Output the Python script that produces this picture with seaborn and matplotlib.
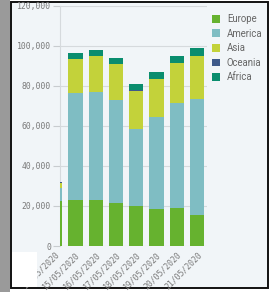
import matplotlib
matplotlib.use("Agg")
import matplotlib.pyplot as plt
import matplotlib.patches as mpatches
import matplotlib.transforms as mtrans
from matplotlib.ticker import FuncFormatter
import seaborn as sns
import pandas as pd
import numpy as np

dates = ["14/05/2020", "15/05/2020", "16/05/2020", "17/05/2020",
         "18/05/2020", "19/05/2020", "20/05/2020", "21/05/2020"]
europe = [22650, 23000, 23000, 21350, 20000, 18350, 19150, 15500]
america = [6600, 53500, 54000, 51800, 38350, 46150, 52350, 58150]
asia = [2500, 16850, 18150, 18000, 19400, 19150, 20150, 21350]
oceania = [50, 100, 100, 100, 100, 100, 100, 100]
africa = [200, 3050, 2600, 2900, 3250, 3250, 3100, 3750]

series_names = ["Europe", "America", "Asia", "Oceania", "Africa"]
series_vals = [europe, america, asia, oceania, africa]
colors = ["#66b22f", "#7fbdc3", "#c3d23a", "#3e5a8a", "#0a8d6e"]
yticks = [0, 20000, 40000, 60000, 80000, 100000, 120000]

W, H = 280, 292
fig = plt.figure(figsize=(W / 100, H / 100), dpi=100)
bg = "#f1f5f8"
fig.patch.set_facecolor("white")

# frame decorations (screenshot look)
fig.add_artist(mpatches.Rectangle((11 / W, 1 - 288 / H), (267.5 - 11) / W, (288 - 1.5) / H,
                                  transform=fig.transFigure, facecolor=bg,
                                  edgecolor="#111111", linewidth=1.4, zorder=0))
fig.add_artist(mpatches.Rectangle((0, 0), 9.5 / W, 1, transform=fig.transFigure,
                                  facecolor="#9a9a9a", edgecolor="none", zorder=0))

ax = fig.add_axes([60 / W, 1 - 246 / H, 147 / W, 240 / H])
ax.set_facecolor(bg)

df = pd.DataFrame({"date": dates})
cum = np.zeros(len(dates))
cums = []
for v in series_vals:
    cum = cum + np.array(v)
    cums.append(cum.copy())
for name, c, col in reversed(list(zip(series_names, cums, colors))):
    df[name] = c
    sns.barplot(data=df, x="date", y=name, color=col, width=0.7, ax=ax,
                saturation=1, edgecolor="none", zorder=3)

ax.set_xlim(0.24, 7.49)
ax.set_ylim(0, 120000)
ax.set_yticks(yticks)
ax.yaxis.set_major_formatter(FuncFormatter(lambda v, p: f"{int(v):,}"))
ax.set_xticks(range(1, len(dates)))
ax.set_xticklabels(dates[1:])
ax.set_xlabel("")
ax.set_ylabel("")
ax.grid(axis="y", color="#d6dadd", linewidth=0.8, zorder=0)
ax.set_axisbelow(True)
for s in ["top", "right", "bottom"]:
    ax.spines[s].set_visible(False)
ax.spines["left"].set_color("#d6dadd")
ax.spines["left"].set_linewidth(0.8)
ax.tick_params(axis="y", length=5, color="#c8cccf", width=0.8, pad=1.5,
               labelsize=5.9, labelcolor="#7a7a7a")
ax.tick_params(axis="x", length=0, pad=3, labelsize=5.9, labelcolor="#7a7a7a")
for lab in ax.get_yticklabels():
    lab.set_family("DejaVu Sans Mono")
for lab in ax.get_xticklabels():
    lab.set_family("DejaVu Sans Mono")
    lab.set_rotation(45)
    lab.set_ha("right")
    lab.set_rotation_mode("anchor")

# first (scrolled-out) date label
tr = mtrans.blended_transform_factory(ax.transData, ax.transAxes)
ax.text(0, -0.012, dates[0], transform=tr, rotation=45, ha="right", va="top",
        rotation_mode="anchor", fontsize=5.9, color="#7a7a7a",
        family="DejaVu Sans Mono", clip_on=False)
fig.add_artist(mpatches.Rectangle((12 / W, 1 - 287 / H), (37 - 12) / W, (287 - 252) / H,
                                  transform=fig.transFigure, facecolor="white",
                                  edgecolor="none", zorder=10))

handles = [mpatches.Patch(facecolor=c, edgecolor="none", label=n)
           for n, c in zip(series_names, colors)]
leg = fig.legend(handles=handles, loc="upper left",
                 bbox_to_anchor=(212 / W, 1 - 14 / H), frameon=False,
                 fontsize=6.9, handlelength=0.85, handleheight=0.85,
                 handletextpad=0.7, labelspacing=0.48, borderpad=0, borderaxespad=0)
for t in leg.get_texts():
    t.set_color("#666666")
    t.set_family("Roboto")

fig.savefig("out.png", dpi=100, facecolor=fig.get_facecolor())
